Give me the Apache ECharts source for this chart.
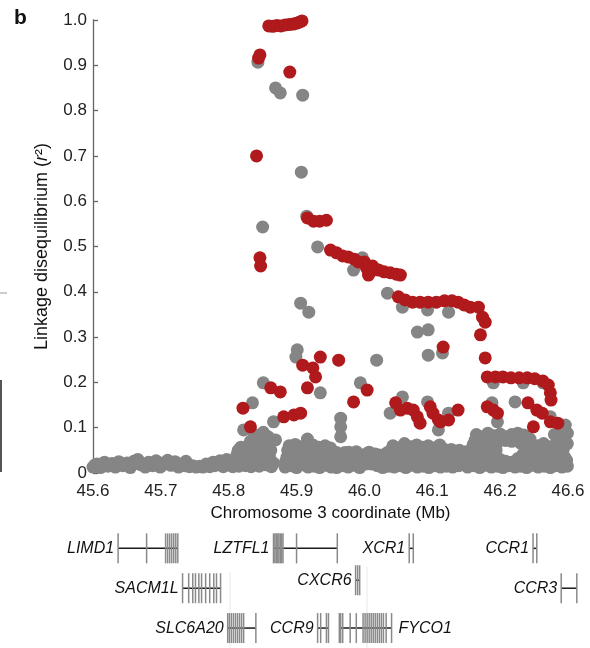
<!DOCTYPE html>
<html>
<head>
<meta charset="utf-8">
<title>LD at 3p21.31</title>
<script src="https://cdn.jsdelivr.net/npm/echarts@6.0.0/dist/echarts.min.js"></script>
<style>
  html, body { margin: 0; padding: 0; background: #fff; }
  #chart { width: 590px; height: 648px; }
</style>
</head>
<body>
<div id="chart"></div>
<script>
// Axis tick labels
const xTickLabels = ['45.6', '45.7', '45.8', '45.9', '46.0', '46.1', '46.2', '46.6'];
const yTickLabels = ['0', '0.1', '0.2', '0.3', '0.4', '0.5', '0.6', '0.7', '0.8', '0.9', '1.0'];

// SNPs not in the core haplotype: [position (Mb), r2]
const greySnps = [
  // flat stretch 45.60-45.80
  [45.600,0.013],[45.606,0.020],[45.611,0.012],[45.617,0.024],[45.622,0.015],[45.628,0.021],
  [45.633,0.013],[45.638,0.025],[45.644,0.016],[45.650,0.022],[45.655,0.012],[45.660,0.026],
  [45.666,0.030],[45.671,0.018],[45.677,0.013],[45.682,0.024],[45.688,0.016],[45.693,0.027],
  [45.699,0.013],[45.704,0.022],[45.710,0.028],[45.715,0.017],[45.721,0.025],[45.726,0.013],
  [45.732,0.020],[45.737,0.026],[45.742,0.014],[45.747,0.016],[45.752,0.013],[45.757,0.015],
  [45.762,0.013],[45.767,0.020],[45.772,0.014],[45.777,0.024],[45.782,0.018],[45.787,0.027],
  [45.792,0.014],[45.797,0.030],[45.802,0.020],
  [45.603,0.018],[45.614,0.017],[45.625,0.019],[45.636,0.018],[45.647,0.019],[45.658,0.018],
  [45.669,0.022],[45.680,0.017],[45.691,0.019],[45.702,0.017],[45.713,0.021],[45.724,0.019],
  [45.735,0.016],[45.779,0.016],[45.790,0.020],
  // rise towards LZTFL1
  [45.806,0.014],[45.810,0.028],[45.812,0.040],[45.815,0.015],[45.818,0.057],[45.820,0.030],
  [45.822,0.095],[45.825,0.016],[45.828,0.060],[45.830,0.035],[45.833,0.014],[45.835,0.155],
  [45.838,0.045],[45.840,0.030],[45.844,0.073],[45.845,0.015],[45.847,0.077],[45.851,0.090],
  [45.851,0.199],[45.852,0.040],[45.855,0.018],[45.857,0.057],[45.860,0.035],[45.863,0.014],
  [45.865,0.073],[45.866,0.113],[45.866,0.022],[45.869,0.073],
  [45.814,0.050],[45.826,0.045],[45.832,0.070],[45.838,0.085],[45.842,0.050],[45.848,0.030],
  [45.854,0.060],[45.858,0.080],[45.861,0.020],[45.862,0.050],[45.836,0.025],[45.828,0.028],
  // scattered higher values
  [45.843,0.907],[45.850,0.543],[45.869,0.850],[45.876,0.839],[45.909,0.834],[45.907,0.664],
  [45.915,0.567],[45.931,0.499],[45.901,0.272],[45.899,0.256],[45.906,0.375],[45.918,0.355],
  [45.935,0.177],[45.965,0.121],[45.965,0.102],[45.965,0.080],[45.994,0.199],[46.018,0.249],
  [45.997,0.475],[45.984,0.448],[46.034,0.397],[46.056,0.366],[46.093,0.360],[46.124,0.355],
  [46.078,0.311],[46.094,0.316],[46.094,0.260],[46.115,0.265],[46.056,0.168],[46.038,0.132],
  [46.093,0.157],[46.109,0.095],[46.124,0.132],[46.188,0.155],[46.196,0.113],[46.190,0.199],
  [46.234,0.199],[46.263,0.199],[46.222,0.157],[46.274,0.124],[46.296,0.106],[46.299,0.088],
  // dense band 45.88-45.955
  [45.883,0.013],[45.892,0.016],[45.900,0.012],[45.909,0.018],[45.917,0.013],[45.926,0.015],
  [45.934,0.012],[45.943,0.017],[45.951,0.013],
  [45.886,0.035],[45.895,0.040],[45.904,0.033],[45.912,0.042],[45.921,0.036],[45.929,0.040],
  [45.938,0.034],[45.946,0.038],[45.955,0.035],
  [45.889,0.060],[45.898,0.063],[45.907,0.058],[45.916,0.075],[45.924,0.062],[45.933,0.057],
  [45.942,0.060],[45.950,0.055],
  // dense band 45.955-46.04
  [45.959,0.012],[45.968,0.016],[45.976,0.013],[45.985,0.017],[45.993,0.012],[46.002,0.020],
  [46.010,0.020],[46.019,0.016],[46.027,0.012],[46.036,0.015],
  [45.962,0.040],[45.971,0.045],[45.980,0.036],[45.988,0.047],[45.997,0.040],[46.005,0.044],
  [46.014,0.037],[46.022,0.040],[46.031,0.042],[46.039,0.050],
  // dense band 46.04-46.15
  [46.044,0.013],[46.053,0.016],[46.061,0.012],[46.070,0.017],[46.078,0.013],[46.087,0.015],
  [46.095,0.012],[46.104,0.016],[46.112,0.013],[46.121,0.015],[46.130,0.013],[46.139,0.016],
  [46.047,0.038],[46.056,0.035],[46.064,0.042],[46.073,0.036],[46.082,0.040],[46.090,0.035],
  [46.099,0.041],[46.108,0.036],[46.116,0.040],[46.125,0.034],[46.134,0.045],[46.143,0.040],
  [46.042,0.060],[46.050,0.055],[46.059,0.065],[46.068,0.058],[46.077,0.062],[46.086,0.057],
  [46.094,0.060],[46.103,0.055],[46.111,0.062],[46.128,0.052],
  // filling rows 45.88-46.15
  [45.884,0.026],[45.893,0.028],[45.902,0.024],[45.911,0.027],[45.920,0.025],[45.929,0.023],
  [45.938,0.027],[45.947,0.025],[45.956,0.022],[45.965,0.027],[45.974,0.025],[45.983,0.028],
  [45.992,0.024],[46.001,0.030],[46.010,0.034],[46.019,0.026],[46.028,0.027],[46.037,0.024],
  [46.046,0.027],[46.055,0.025],[46.064,0.028],[46.073,0.024],[46.082,0.026],[46.091,0.027],
  [46.100,0.024],[46.109,0.028],[46.118,0.025],[46.127,0.023],[46.136,0.028],[46.145,0.024],
  [45.887,0.050],[45.896,0.052],[45.905,0.048],[45.914,0.055],[45.923,0.050],[45.932,0.047],
  [45.941,0.052],[45.950,0.048],[45.959,0.045],[45.968,0.042],[45.977,0.046],[45.986,0.040],
  [46.007,0.046],[46.016,0.042],[46.034,0.045],[46.045,0.050],[46.054,0.048],[46.063,0.052],
  [46.072,0.050],[46.081,0.053],[46.090,0.048],[46.099,0.052],[46.108,0.049],[46.117,0.053],
  [46.126,0.046],[46.140,0.050],[46.149,0.047],
  // dense band 46.15-46.31
  [46.152,0.013],[46.161,0.016],[46.170,0.012],[46.178,0.017],[46.187,0.013],[46.196,0.015],
  [46.204,0.012],[46.213,0.016],[46.222,0.013],[46.230,0.015],[46.239,0.012],[46.248,0.017],
  [46.256,0.013],[46.265,0.015],[46.274,0.012],[46.282,0.016],[46.291,0.013],[46.299,0.015],
  [46.306,0.014],
  [46.148,0.040],[46.156,0.035],[46.165,0.042],[46.174,0.036],[46.182,0.040],[46.191,0.035],
  [46.200,0.030],[46.226,0.032],[46.234,0.042],[46.243,0.036],[46.252,0.040],[46.260,0.035],
  [46.269,0.041],[46.278,0.036],[46.286,0.040],[46.295,0.035],[46.304,0.040],
  [46.160,0.062],[46.169,0.058],[46.178,0.065],[46.186,0.060],[46.195,0.064],[46.230,0.066],
  [46.238,0.058],[46.247,0.063],[46.256,0.060],[46.264,0.065],[46.273,0.058],[46.282,0.062],
  [46.290,0.060],[46.299,0.065],[46.306,0.060],
  [46.165,0.085],[46.174,0.080],[46.182,0.088],[46.191,0.082],[46.200,0.086],[46.208,0.080],
  [46.217,0.085],[46.226,0.088],[46.235,0.084],[46.280,0.085],[46.288,0.084],[46.297,0.088],
  [46.304,0.083],
  // filling rows 46.15-46.31
  [46.154,0.026],[46.163,0.028],[46.172,0.024],[46.181,0.027],[46.190,0.025],[46.199,0.023],
  [46.208,0.026],[46.217,0.024],[46.226,0.020],[46.235,0.026],[46.244,0.027],[46.253,0.024],
  [46.262,0.028],[46.271,0.025],[46.280,0.027],[46.289,0.024],[46.298,0.028],[46.305,0.025],
  [46.158,0.050],[46.167,0.052],[46.176,0.048],[46.185,0.053],[46.194,0.050],[46.239,0.050],
  [46.248,0.052],[46.257,0.048],[46.266,0.053],[46.275,0.050],[46.284,0.048],[46.293,0.052],
  [46.302,0.050],
  [46.163,0.072],[46.172,0.070],[46.181,0.075],[46.190,0.071],[46.199,0.074],[46.208,0.072],
  [46.217,0.070],[46.226,0.073],[46.244,0.075],[46.284,0.072],[46.293,0.075],[46.302,0.071]
];

// SNPs on the core haplotype: [position (Mb), r2]
const redSnps = [
  [45.859,0.987],[45.865,0.986],[45.871,0.988],[45.877,0.987],[45.883,0.989],[45.889,0.990],
  [45.895,0.991],[45.900,0.993],[45.904,0.995],[45.908,0.998],
  [45.844,0.916],[45.846,0.923],[45.890,0.885],[45.841,0.700],
  [45.916,0.563],[45.925,0.556],[45.934,0.556],[45.944,0.558],
  [45.846,0.475],[45.847,0.457],
  [45.950,0.492],[45.959,0.486],[45.968,0.479],[45.976,0.477],[45.985,0.472],[45.991,0.466],
  [46.000,0.466],[46.003,0.453],[46.009,0.444],[46.012,0.457],[46.021,0.448],[46.029,0.444],
  [46.038,0.442],[46.047,0.439],[46.053,0.437],[46.006,0.437],
  [46.050,0.389],[46.060,0.382],[46.071,0.377],[46.082,0.377],[46.094,0.377],[46.106,0.377],
  [46.118,0.380],[46.129,0.380],[46.138,0.377],[46.147,0.371],[46.156,0.366],
  [46.168,0.366],[46.174,0.344],[46.178,0.333],[46.171,0.305],[46.178,0.254],[46.116,0.278],
  [46.181,0.212],[46.193,0.212],[46.204,0.212],[46.216,0.210],[46.228,0.210],[46.240,0.210],
  [46.251,0.208],[46.263,0.203],[46.271,0.194],[46.274,0.177],[46.275,0.161],
  [46.181,0.146],[46.190,0.139],[46.196,0.132],
  [46.241,0.155],[46.254,0.139],[46.262,0.132],
  [46.249,0.102],[46.274,0.113],[46.285,0.110],
  [46.046,0.155],[46.053,0.139],[46.063,0.143],[46.072,0.139],[46.078,0.124],[46.082,0.110],
  [46.097,0.146],[46.101,0.132],[46.109,0.117],[46.124,0.117],[46.138,0.139],[46.112,0.113],
  [45.984,0.157],[46.004,0.183],
  [45.935,0.256],[45.962,0.249],[45.909,0.238],[45.924,0.232],[45.928,0.212],[45.916,0.188],
  [45.862,0.188],[45.876,0.179],
  [45.881,0.124],[45.896,0.128],[45.906,0.132],
  [45.821,0.143],[45.832,0.102]
];

// Gene models (positions in Mb)
const geneNames  = ['LIMD1', 'SACM1L', 'SLC6A20', 'LZTFL1', 'CCR9', 'FYCO1', 'CXCR6', 'XCR1', 'CCR1', 'CCR3'];
const geneStart  = [45.637, 45.732, 45.7985, 45.866, 45.931, 45.963, 45.987, 46.066, 46.2485, 46.290];
const geneEnd    = [45.725, 45.788, 45.840, 45.960, 45.947, 46.040, 45.993, 46.072, 46.254, 46.313];
const geneTrack  = [1, 2, 3, 1, 3, 3, 1.8, 1, 1, 2];
const geneLabelSide = ['left', 'left', 'left', 'left', 'left', 'right', 'left', 'left', 'left', 'left'];
const geneExons = [
  [45.637, 45.679, 45.707, 45.710, 45.713, 45.716, 45.719, 45.722, 45.725],
  [45.732, 45.741, 45.747, 45.751, 45.756, 45.760, 45.766, 45.772, 45.778, 45.782, 45.788],
  [45.7985, 45.801, 45.804, 45.807, 45.810, 45.813, 45.816, 45.819, 45.822, 45.840],
  [45.866, 45.868, 45.870, 45.872, 45.874, 45.876, 45.878, 45.880, 45.900, 45.960],
  [45.931, 45.9355, 45.944, 45.947],
  [45.963, 45.965, 45.968, 45.979, 45.988, 45.998, 46.001, 46.004, 46.007, 46.010, 46.013,
   46.016, 46.019, 46.022, 46.025, 46.028, 46.032, 46.040],
  [45.987, 45.990, 45.993],
  [46.066, 46.072],
  [46.2485, 46.254],
  [46.290, 46.313]
];

const FONT = 'Liberation Sans, Arial, Helvetica, sans-serif';
const chart = echarts.init(document.getElementById('chart'), null, { renderer: 'canvas' });

function renderGene(params, api) {
  const i = api.value(3);
  const level = api.value(2);
  const a = api.coord([geneStart[i], level]);
  const b = api.coord([geneEnd[i], level]);
  const y = a[1];
  const half = 15;
  const children = [];
  children.push({
    type: 'line',
    shape: { x1: a[0], y1: y, x2: b[0], y2: y },
    style: { stroke: '#1a1a1a', lineWidth: 1.5 }
  });
  geneExons[i].forEach(function (e) {
    const x = api.coord([e, level])[0];
    children.push({
      type: 'line',
      shape: { x1: x, y1: y - half, x2: x, y2: y + half },
      style: { stroke: '#8a8a8a', lineWidth: 1.5 }
    });
  });
  const right = geneLabelSide[i] === 'right';
  children.push({
    type: 'text',
    style: {
      text: geneNames[i],
      x: right ? b[0] + 7 : a[0] - 4,
      y: y,
      align: right ? 'left' : 'right',
      verticalAlign: 'middle',
      fontFamily: FONT,
      fontStyle: 'italic',
      fontSize: 16,
      fill: '#111'
    }
  });
  return { type: 'group', children: children };
}

const option = {
  animation: false,
  backgroundColor: '#fff',
  grid: [
    { left: 93, top: 20, width: 475, height: 453, containLabel: false },
    { left: 93, top: 508.5, width: 475, height: 145.25, containLabel: false }
  ],
  xAxis: [
    {
      gridIndex: 0, type: 'value', min: 45.6, max: 46.3, interval: 0.1,
      axisLine: { show: false }, axisTick: { show: false }, splitLine: { show: false },
      axisLabel: {
        margin: 10, fontSize: 17, fontFamily: FONT, color: '#222',
        formatter: function (v) { return xTickLabels[Math.round((v - 45.6) * 10)]; }
      },
      name: 'Chromosome 3 coordinate (Mb)', nameLocation: 'middle', nameGap: 32,
      nameTextStyle: { fontSize: 17, fontFamily: FONT, color: '#111' }
    },
    {
      gridIndex: 1, type: 'value', min: 45.6, max: 46.3, show: false
    }
  ],
  yAxis: [
    {
      gridIndex: 0, type: 'value', min: 0, max: 1, interval: 0.1,
      axisLine: { show: true, lineStyle: { color: '#666', width: 1.3 } },
      axisTick: { show: true, inside: true, length: 5, lineStyle: { color: '#666', width: 1.3 } },
      splitLine: { show: false },
      axisLabel: {
        margin: 6, fontSize: 17, fontFamily: FONT, color: '#222',
        formatter: function (v) { return yTickLabels[Math.round(v * 10)]; }
      },
      name: 'Linkage disequilibrium ({i|r}²)', nameLocation: 'middle', nameGap: 42, nameRotate: 90,
      nameTextStyle: {
        fontSize: 18, fontFamily: FONT, color: '#111',
        rich: { i: { fontSize: 18, fontFamily: FONT, fontStyle: 'italic', color: '#111' } }
      }
    },
    {
      gridIndex: 1, type: 'value', min: 0, max: 3.5, inverse: true, show: false
    }
  ],
  series: [
    {
      type: 'scatter', xAxisIndex: 0, yAxisIndex: 0, data: greySnps,
      symbol: 'circle', symbolSize: 13, silent: true,
      itemStyle: { color: '#858585', opacity: 1 }
    },
    {
      type: 'scatter', xAxisIndex: 0, yAxisIndex: 0, data: redSnps,
      symbol: 'circle', symbolSize: 13, silent: true,
      itemStyle: { color: '#b01a1c', opacity: 1 }
    },
    {
      type: 'custom', xAxisIndex: 1, yAxisIndex: 1, silent: true, clip: false,
      encode: { x: [0, 1], y: 2 },
      data: geneNames.map(function (n, i) { return [geneStart[i], geneEnd[i], geneTrack[i], i]; }),
      renderItem: renderGene
    }
  ],
  graphic: [
    {
      type: 'text', left: 14, top: 8,
      style: { text: 'b', fontFamily: FONT, fontWeight: 'bold', fontSize: 21, fill: '#111' }
    },
    // edge of the neighbouring panel
    { type: 'line', shape: { x1: 0, y1: 293, x2: 7, y2: 293 }, style: { stroke: '#999', lineWidth: 1 } },
    { type: 'line', shape: { x1: 1, y1: 380, x2: 1, y2: 472 }, style: { stroke: '#555', lineWidth: 2 } },
    // faint guide lines in the gene panel
    { type: 'line', shape: { x1: 230, y1: 572, x2: 230, y2: 648 }, style: { stroke: '#e8e8e8', lineWidth: 1 } },
    { type: 'line', shape: { x1: 367, y1: 567, x2: 367, y2: 648 }, style: { stroke: '#e8e8e8', lineWidth: 1 } }
  ]
};

chart.setOption(option);
</script>
</body>
</html>
